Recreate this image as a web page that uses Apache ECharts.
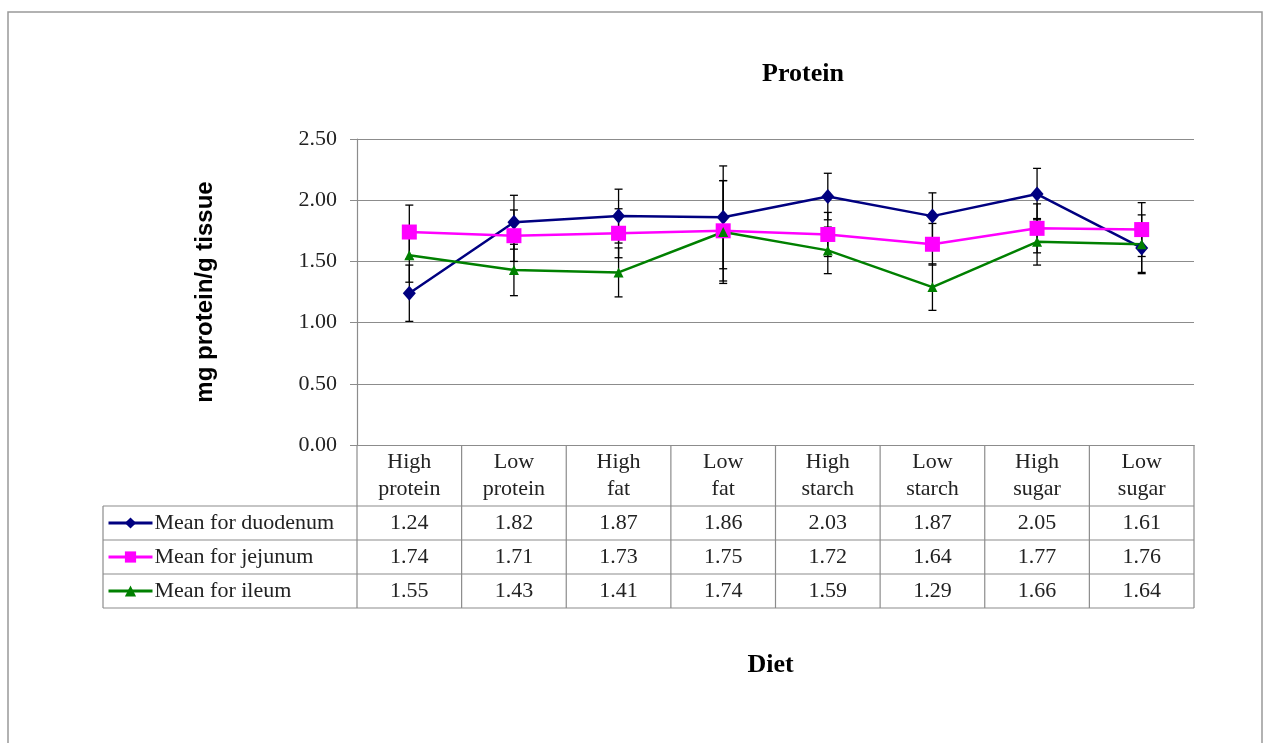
<!DOCTYPE html>
<html>
<head>
<meta charset="utf-8">
<script src="https://cdn.jsdelivr.net/npm/echarts@6/dist/echarts.min.js"></script>
<style>
  html, body { margin: 0; padding: 0; background: #fff; }
  #chart { width: 1264px; height: 743px; }
</style>
</head>
<body>
<div id="chart"></div>
<script>
    const diets = ['High protein', 'Low protein', 'High fat', 'Low fat', 'High starch', 'Low starch', 'High sugar', 'Low sugar'];
    const yTicks = [0, 0.5, 1.0, 1.5, 2.0, 2.5];

    const duodenum = [1.24, 1.82, 1.87, 1.86, 2.03, 1.87, 2.05, 1.61];
    const jejunum = [1.74, 1.71, 1.73, 1.75, 1.72, 1.64, 1.77, 1.76];
    const ileum = [1.55, 1.43, 1.41, 1.74, 1.59, 1.29, 1.66, 1.64];

    // error bar half-widths
    const duodenumErr = [0.23, 0.22, 0.22, 0.42, 0.19, 0.19, 0.21, 0.20];
    const jejunumErr = [0.22, 0.21, 0.20, 0.41, 0.18, 0.17, 0.20, 0.22];
    const ileumErr = [0.22, 0.21, 0.20, 0.42, 0.19, 0.19, 0.19, 0.24];

    const seriesNames = ['Mean for duodenum', 'Mean for jejunum', 'Mean for ileum'];
    const seriesValues = [duodenum, jejunum, ileum];
    const seriesErrors = [duodenumErr, jejunumErr, ileumErr];
    const seriesColors = ['#000080', '#FF00FF', '#008000'];
    const seriesSymbols = ['diamond', 'rect', 'triangle'];
    const seriesSymbolSizes = [[13, 15], 15, 10];

    const SERIF = '"Liberation Serif", "Times New Roman", serif';
    const GRID_COLOR = '#8c8c8c';
    const TEXT_COLOR = '#222';

    const chart = echarts.init(document.getElementById('chart'));

    function errorBarItem(params, api) {
        const lo = api.coord([api.value(0), api.value(1)]);
        const hi = api.coord([api.value(0), api.value(2)]);
        const cap = 4;
        const style = { stroke: '#000', lineWidth: 1.3 };
        return {
            type: 'group',
            children: [
                { type: 'line', shape: { x1: lo[0], y1: lo[1], x2: hi[0], y2: hi[1] }, style: style },
                { type: 'line', shape: { x1: lo[0] - cap, y1: lo[1], x2: lo[0] + cap, y2: lo[1] }, style: style },
                { type: 'line', shape: { x1: hi[0] - cap, y1: hi[1], x2: hi[0] + cap, y2: hi[1] }, style: style }
            ]
        };
    }

    const lineSeries = seriesNames.map((name, s) => ({
        name: name,
        type: 'line',
        data: seriesValues[s],
        symbol: seriesSymbols[s],
        symbolSize: seriesSymbolSizes[s],
        showAllSymbol: true,
        lineStyle: { color: seriesColors[s], width: 2.5 },
        itemStyle: { color: seriesColors[s] },
        z: 3,
        animation: false
    }));

    const errorSeries = seriesNames.map((name, s) => ({
        name: name + ' error',
        type: 'custom',
        renderItem: errorBarItem,
        data: seriesValues[s].map((v, i) => [i, v - seriesErrors[s][i], v + seriesErrors[s][i]]),
        z: 2,
        silent: true,
        animation: false
    }));

    chart.setOption({
        backgroundColor: '#fff',
        animation: false,
        title: {
            text: 'Protein',
            left: 798,
            top: 56,
            textAlign: 'center',
            textStyle: { fontFamily: SERIF, fontWeight: 'bold', fontSize: 26, color: '#000' }
        },
        grid: { left: 357, right: 70, top: 139, bottom: 298 },
        xAxis: {
            type: 'category',
            data: diets,
            boundaryGap: true,
            name: 'Diet',
            nameLocation: 'middle',
            nameGap: 207,
            nameTextStyle: { fontFamily: SERIF, fontWeight: 'bold', fontSize: 26, color: '#000', padding: [0, 0, 0, -10] },
            axisLine: { lineStyle: { color: GRID_COLOR, width: 1.2 } },
            axisTick: { show: false },
            axisLabel: {
                interval: 0,
                margin: 4,
                fontFamily: SERIF,
                fontSize: 22,
                lineHeight: 27,
                color: TEXT_COLOR,
                formatter: (v) => v.split(' ').join('\n')
            }
        },
        yAxis: {
            type: 'value',
            min: yTicks[0],
            max: yTicks[yTicks.length - 1],
            interval: 0.5,
            name: 'mg protein/g tissue',
            nameLocation: 'middle',
            nameRotate: 90,
            nameGap: 140,
            nameTextStyle: { fontFamily: '"Liberation Sans", Arial, sans-serif', fontWeight: 'bold', fontSize: 24, color: '#000' },
            axisLine: { show: true, lineStyle: { color: GRID_COLOR, width: 1.2 } },
            axisTick: { show: true, inside: false, length: 7, lineStyle: { color: GRID_COLOR } },
            splitLine: { lineStyle: { color: GRID_COLOR, width: 1.2 } },
            axisLabel: {
                margin: 20,
                fontFamily: SERIF,
                fontSize: 22,
                color: TEXT_COLOR,
                formatter: (v) => v.toFixed(2)
            }
        },
        series: errorSeries.concat(lineSeries)
    });

    // data table under the plot, laid out from the axis scales
    function buildTable() {
        const cx = diets.map((d, i) => chart.convertToPixel({ xAxisIndex: 0 }, i));
        const band = cx[1] - cx[0];
        const left = cx[0] - band / 2;
        const right = left + band * diets.length;
        const yZero = chart.convertToPixel({ yAxisIndex: 0 }, 0);
        const headerBottom = yZero + 61;
        const rowH = 34;
        const tableLeft = 103;
        const bottom = headerBottom + rowH * seriesNames.length;
        const lineStyle = { stroke: GRID_COLOR, lineWidth: 1.2 };

        const elements = [];
        // outer chart-area border
        elements.push({
            type: 'rect', silent: true,
            shape: { x: 8, y: 12, width: 1254, height: 760 },
            style: { fill: 'none', stroke: '#999', lineWidth: 1.5 }
        });
        for (let r = 0; r <= seriesNames.length; r++) {
            const y = headerBottom + r * rowH;
            elements.push({ type: 'line', silent: true, shape: { x1: tableLeft, y1: y, x2: right, y2: y }, style: lineStyle });
        }
        for (let k = 0; k <= diets.length; k++) {
            const x = left + k * band;
            elements.push({ type: 'line', silent: true, shape: { x1: x, y1: yZero, x2: x, y2: bottom }, style: lineStyle });
        }
        elements.push({ type: 'line', silent: true, shape: { x1: tableLeft, y1: headerBottom, x2: tableLeft, y2: bottom }, style: lineStyle });

        seriesValues.forEach((vals, s) => {
            const yc = headerBottom + rowH * s + rowH / 2;
            vals.forEach((v, i) => {
                elements.push({
                    type: 'text', silent: true,
                    x: cx[i], y: yc,
                    style: {
                        text: v.toFixed(2),
                        font: '22px ' + SERIF,
                        fill: TEXT_COLOR,
                        align: 'center',
                        verticalAlign: 'middle'
                    }
                });
            });
        });

        chart.setOption({
            graphic: elements,
            legend: {
                data: seriesNames,
                orient: 'vertical',
                left: tableLeft + 4,
                top: headerBottom + 5,
                itemWidth: 44,
                itemHeight: 14,
                itemGap: 10,
                padding: 0,
                lineStyle: { width: 3 },
                textStyle: { fontFamily: SERIF, fontSize: 22, color: TEXT_COLOR, height: 24, lineHeight: 24, padding: [0, 0, 0, -3] }
            }
        });
    }

    buildTable();
</script>
</body>
</html>
